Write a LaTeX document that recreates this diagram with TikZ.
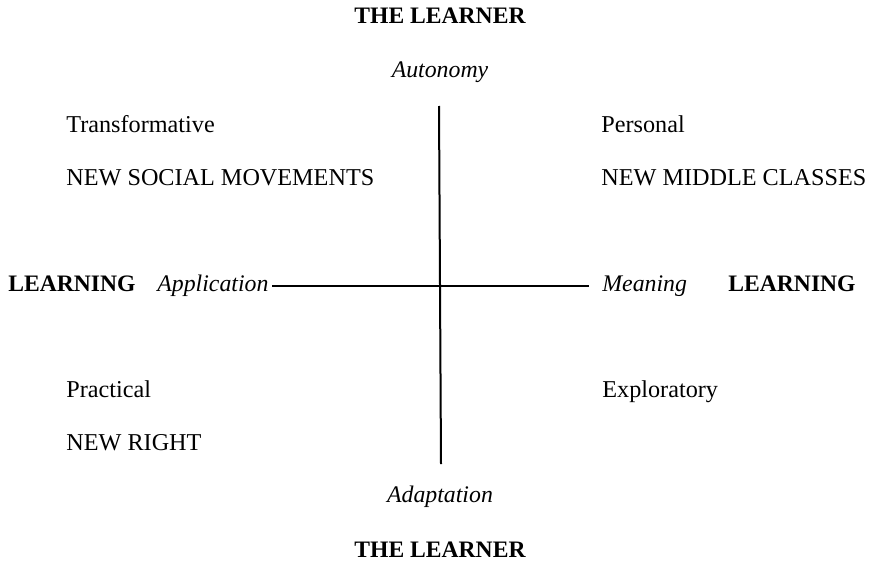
\documentclass[tikz,border=0pt]{standalone}
\usepackage{fontspec}
\setmainfont{Liberation Serif}

\begin{document}
\begin{tikzpicture}[x=0.5pt,y=-0.5pt,font=\fontsize{12.1}{15}\selectfont,
  every node/.style={inner sep=0pt},
  heading/.style={font=\fontsize{11.8}{15}\selectfont\bfseries},
  pole/.style={font=\fontsize{11.9}{15}\selectfont\itshape}]
\useasboundingbox (0,0) rectangle (873,562);

\node[heading,anchor=base] (top) at (440,24) {THE LEARNER};
\node[pole,anchor=base] (auto) at (440,77) {Autonomy};
\node[pole,anchor=base] (adapt) at (440,502) {Adaptation};
\node[heading,anchor=base] (bot) at (440,557) {THE LEARNER};

\node[heading,anchor=base west] (lleft) at (8,291) {LEARNING};
\node[pole,anchor=base west] (appl) at (157,291) {Application};
\node[pole,anchor=base west] (mean) at (602,291) {Meaning};
\node[heading,anchor=base west] (lright) at (728,291) {LEARNING};

\node[anchor=base west] (trans) at (66,132) {Transformative};
\node[anchor=base west] (nsm) at (66,185) {NEW SOCIAL MOVEMENTS};
\node[anchor=base west] (pers) at (601,132) {Personal};
\node[anchor=base west] (nmc) at (601,185) {NEW MIDDLE CLASSES};
\node[anchor=base west] (prac) at (66,397) {Practical};
\node[anchor=base west] (nr) at (66,450) {NEW RIGHT};
\node[anchor=base west] (expl) at (602,397) {Exploratory};

% the two axes
\coordinate (n) at (439,106);
\coordinate (s) at (441,464);
\coordinate (w) at (272,286);
\coordinate (e) at (589,286);
\path[draw,line width=1pt,-] (n) -- (s);
\path[draw,line width=1pt,-] (w) -- (e);
\end{tikzpicture}
\end{document}
